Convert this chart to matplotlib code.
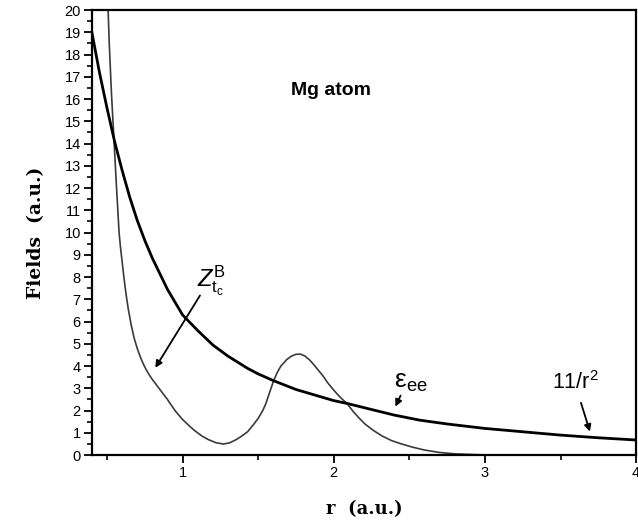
import matplotlib.pyplot as plt
import numpy as np

# curva gruesa (epsilon_ee, tiende a 11/r^2)
r_ee = [0.40, 0.45, 0.50, 0.55, 0.60, 0.65, 0.70, 0.75, 0.80, 0.90, 1.00, 1.10,
        1.20, 1.30, 1.43, 1.50, 1.60, 1.75, 1.85, 2.00, 2.09, 2.25, 2.40, 2.57,
        2.75, 3.00, 3.25, 3.50, 3.75, 4.00]
f_ee = [19.0, 17.2, 15.6, 14.1, 12.8, 11.6, 10.55, 9.65, 8.85, 7.45, 6.3, 5.6,
        4.95, 4.45, 3.9, 3.65, 3.35, 2.95, 2.75, 2.45, 2.32, 2.05, 1.8, 1.57,
        1.4, 1.2, 1.05, 0.9, 0.78, 0.68]

# curva fina Z_tc^B
r_z = [0.505, 0.515, 0.53, 0.546, 0.56, 0.58, 0.59, 0.60, 0.61, 0.62, 0.63,
       0.64, 0.66, 0.68, 0.70, 0.72, 0.74, 0.76, 0.78, 0.80, 0.85, 0.90, 0.95,
       1.00, 1.05, 1.08, 1.13, 1.17, 1.22, 1.27, 1.31, 1.35, 1.39, 1.43, 1.47,
       1.50, 1.53, 1.55, 1.575, 1.60, 1.625, 1.65, 1.69, 1.72, 1.75, 1.78, 1.81,
       1.84, 1.87, 1.90, 1.93, 1.96, 2.00, 2.04, 2.09, 2.13, 2.17, 2.21, 2.26,
       2.32, 2.38, 2.44, 2.52, 2.60, 2.70, 2.80, 2.95, 3.10, 4.00]
f_z = [20.5, 18.5, 16.2, 14.2, 12.4, 10.0, 9.3, 8.7, 8.1, 7.55, 7.05,
       6.6, 5.85, 5.25, 4.8, 4.42, 4.1, 3.83, 3.6, 3.4, 2.95, 2.5, 2.0,
       1.6, 1.28, 1.1, 0.85, 0.7, 0.56, 0.5, 0.55, 0.68, 0.85, 1.05, 1.38,
       1.65, 2.0, 2.3, 2.8, 3.3, 3.7, 4.0, 4.3, 4.45, 4.53, 4.54, 4.45,
       4.28, 4.05, 3.8, 3.55, 3.25, 2.92, 2.62, 2.3, 1.95, 1.65, 1.38, 1.12,
       0.86, 0.66, 0.52, 0.36, 0.23, 0.12, 0.06, 0.02, 0.0, 0.0]

plt.rcParams['font.family'] = ['Liberation Sans', 'DejaVu Sans']
plt.rcParams['mathtext.fontset'] = 'custom'
plt.rcParams['mathtext.rm'] = 'Liberation Sans'
plt.rcParams['mathtext.it'] = 'Liberation Sans:italic'

fig = plt.figure(figsize=(6.38, 5.28), dpi=100)
ax = fig.add_axes([0.144, 0.138, 0.853, 0.843])

ax.plot(r_z, f_z, color='#3a3a3a', lw=1.2)
ax.plot(r_ee, f_ee, color='black', lw=2.0)

ax.set_xlim(0.4, 4.0)
ax.set_ylim(0, 20)
ax.set_xticks([1, 2, 3, 4])
ax.set_xticks([0.5, 1.5, 2.5, 3.5], minor=True)
ax.set_yticks(np.arange(0, 21, 1))
ax.set_yticks(np.arange(0.5, 20, 1), minor=True)
ax.tick_params(which='major', length=6, width=1.3, labelsize=10.5, pad=2)
ax.tick_params(which='minor', length=3.5, width=1.2)
for s in ax.spines.values():
    s.set_linewidth(1.6)

ax.set_xlabel('r  (a.u.)', family='DejaVu Serif', fontweight='bold', fontsize=13, labelpad=14)
ax.set_ylabel('Fields  (a.u.)', family='DejaVu Serif', fontweight='bold', fontsize=13.5, labelpad=14)

ax.text(1.98, 16.4, 'Mg atom', fontsize=14, fontweight='bold', ha='center', va='center')

ax.text(1.19, 7.85, r'$Z_{\mathrm{t_c}}^{\mathrm{B}}$', fontsize=17, ha='center', va='center')
ax.annotate('', xy=(0.81, 3.82), xytext=(1.125, 7.28),
            arrowprops=dict(arrowstyle='-|>', color='black', lw=1.3, mutation_scale=10))

ax.text(2.51, 3.3, r'$\mathrm{\varepsilon}_{\mathrm{ee}}$', fontsize=19, ha='center', va='center')
ax.annotate('', xy=(2.40, 2.07), xytext=(2.45, 2.79),
            arrowprops=dict(arrowstyle='-|>', color='black', lw=1.3, mutation_scale=10))

ax.text(3.60, 3.25, r'11/r$^2$', fontsize=15.5, ha='center', va='center')
ax.annotate('', xy=(3.70, 0.94), xytext=(3.63, 2.47),
            arrowprops=dict(arrowstyle='-|>', color='black', lw=1.3, mutation_scale=10))

fig.savefig('out.png', dpi=100)
